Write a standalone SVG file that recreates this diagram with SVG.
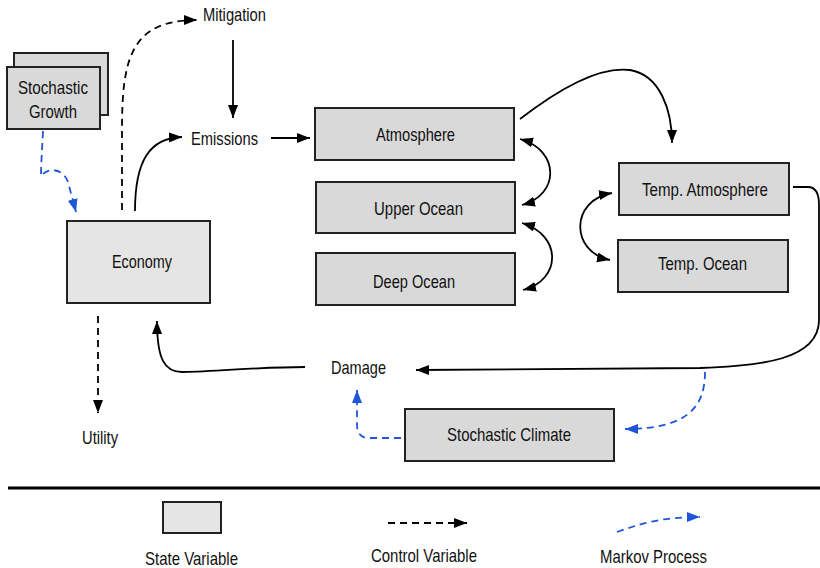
<svg xmlns="http://www.w3.org/2000/svg" width="820" height="568" viewBox="0 0 820 568">
<defs>
<marker id="ab" markerUnits="userSpaceOnUse" markerWidth="14" markerHeight="11" refX="13" refY="5" orient="auto-start-reverse"><path d="M0,0 L13,5 L0,10 z" fill="#000"/></marker>
<marker id="au" markerUnits="userSpaceOnUse" markerWidth="14" markerHeight="11" refX="13" refY="5" orient="auto-start-reverse"><path d="M0,0 L13,5 L0,10 z" fill="#1f55d8"/></marker>
<style>
.box{fill:#d9d9d9;stroke:#222;stroke-width:2}
.lt{fill:#e5e5e5;stroke:#222;stroke-width:2}
text{font-family:"Liberation Sans",Arial,sans-serif;font-size:18.5px;fill:#111}
.s{fill:none;stroke:#000;stroke-width:1.8}
.d{fill:none;stroke:#000;stroke-width:1.8;stroke-dasharray:7,5}
.m{fill:none;stroke:#1f55d8;stroke-width:1.8;stroke-dasharray:7,5}
</style>
</defs>
<rect width="820" height="568" fill="#fff"/>
<g id="stochastic-growth">
<rect class="box" x="14" y="53" width="94" height="62"/>
<rect class="box" x="7" y="67" width="93" height="62"/>
<text x="18" y="94" textLength="70" lengthAdjust="spacingAndGlyphs">Stochastic</text>
<text x="29" y="118" textLength="48" lengthAdjust="spacingAndGlyphs">Growth</text>
</g>
<g id="mitigation"><text x="203" y="21" textLength="63" lengthAdjust="spacingAndGlyphs">Mitigation</text></g>
<g id="emissions"><text x="191" y="145" textLength="67" lengthAdjust="spacingAndGlyphs">Emissions</text></g>
<g id="economy"><rect class="lt" x="67" y="221" width="143" height="82"/><text x="112" y="268" textLength="60" lengthAdjust="spacingAndGlyphs">Economy</text></g>
<g id="atmosphere"><rect class="box" x="315" y="108" width="199" height="52"/><text x="376" y="141" textLength="79" lengthAdjust="spacingAndGlyphs">Atmosphere</text></g>
<g id="upper-ocean"><rect class="box" x="316" y="182" width="199" height="51"/><text x="374" y="215" textLength="89" lengthAdjust="spacingAndGlyphs">Upper Ocean</text></g>
<g id="deep-ocean"><rect class="box" x="316" y="253" width="199" height="52"/><text x="373" y="288" textLength="82" lengthAdjust="spacingAndGlyphs">Deep Ocean</text></g>
<g id="temp-atmosphere"><rect class="box" x="619" y="163" width="170" height="52"/><text x="642" y="196" textLength="126" lengthAdjust="spacingAndGlyphs">Temp. Atmosphere</text></g>
<g id="temp-ocean"><rect class="box" x="618" y="240" width="170" height="52"/><text x="658" y="270" textLength="89" lengthAdjust="spacingAndGlyphs">Temp. Ocean</text></g>
<g id="damage"><text x="331" y="374" textLength="55" lengthAdjust="spacingAndGlyphs">Damage</text></g>
<g id="stochastic-climate"><rect class="box" x="405" y="409" width="209" height="52"/><text x="447" y="441" textLength="124" lengthAdjust="spacingAndGlyphs">Stochastic Climate</text></g>
<g id="utility"><text x="82" y="444" textLength="36" lengthAdjust="spacingAndGlyphs">Utility</text></g>
<g id="connectors">
<path class="m" d="M43,131 C42,150 41,165 41,176 C48,167 63,168 68,182 L76,212" marker-end="url(#au)"/>
<path class="d" d="M122,210 L122,130 C122,60 130,20 197,20" marker-end="url(#ab)"/>
<path class="s" d="M135,211 C135,160 150,138 182,137" marker-end="url(#ab)"/>
<path class="s" d="M233,40 L233,118" marker-end="url(#ab)"/>
<path class="s" d="M271,138 L310,138" marker-end="url(#ab)"/>
<path class="s" d="M520,119 C560,88 600,66 630,70 C660,75 672,110 672,143" marker-end="url(#ab)"/>
<path class="s" d="M520,139 C560,150 560,195 522,205" marker-start="url(#ab)" marker-end="url(#ab)"/>
<path class="s" d="M522,223 C562,235 562,280 523,290" marker-start="url(#ab)" marker-end="url(#ab)"/>
<path class="s" d="M612,193 C570,200 570,252 610,260" marker-start="url(#ab)" marker-end="url(#ab)"/>
<path class="s" d="M793,187 L808,187 C817,187 819,195 819,205 L819,320 C819,360 760,366 700,368 L416,370" marker-end="url(#ab)"/>
<path class="m" d="M705,372 C705,405 690,429 625,429" marker-end="url(#au)"/>
<path class="m" d="M401,438 L368,438 C360,438 357,432 357,425 L357,390" marker-end="url(#au)"/>
<path class="s" d="M305,367 C260,367 205,372 182,372 C165,372 157,360 157,321" marker-end="url(#ab)"/>
<path class="d" d="M98,316 L98,413" marker-end="url(#ab)"/>
</g>
<g id="legend">
<line x1="8" y1="488" x2="820" y2="488" stroke="#000" stroke-width="3"/>
<rect class="lt" x="163" y="502" width="58" height="31"/>
<text x="145" y="565" textLength="93" lengthAdjust="spacingAndGlyphs">State Variable</text>
<path class="d" d="M388,523 L467,523" marker-end="url(#ab)"/>
<text x="371" y="562" textLength="106" lengthAdjust="spacingAndGlyphs">Control Variable</text>
<path class="m" d="M617,532 C640,524 660,517 700,517" marker-end="url(#au)"/>
<text x="600" y="563" textLength="107" lengthAdjust="spacingAndGlyphs">Markov Process</text>
</g>
</svg>
